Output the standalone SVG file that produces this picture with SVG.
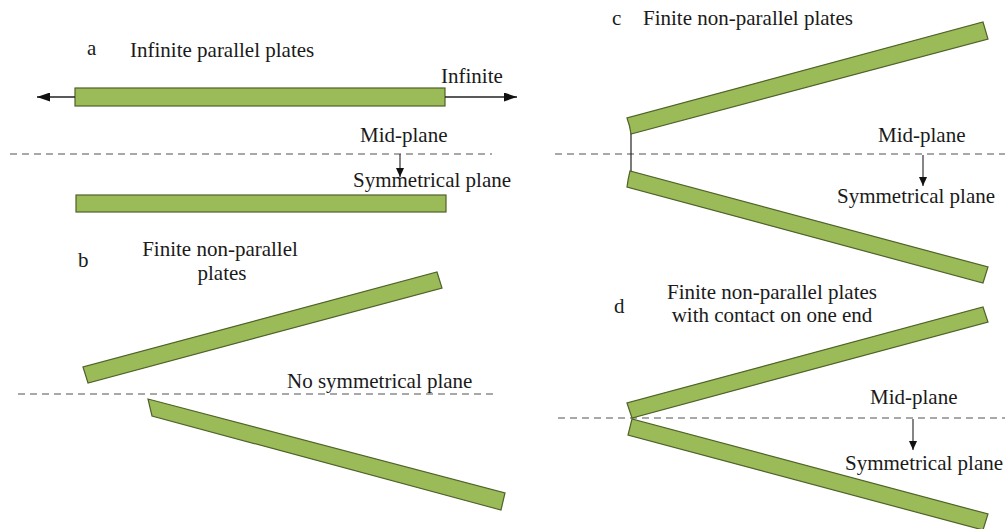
<svg xmlns="http://www.w3.org/2000/svg" width="1005" height="529" viewBox="0 0 1005 529">
<defs>
<style>
.t{font-family:"Liberation Serif","Times New Roman",serif;font-size:21px;fill:#1a1a1a}
.plate{fill:#9bbb59;stroke:#4f6228;stroke-width:1.2}
.dash{stroke:#8c8c8c;stroke-width:1.6;stroke-dasharray:7 5;fill:none}
.arr{stroke:#222;stroke-width:1.4;fill:none}
.sarr{stroke:#222;stroke-width:1.1;fill:none}
</style>
<marker id="big" markerUnits="userSpaceOnUse" markerWidth="14" markerHeight="9" refX="13" refY="4.5" orient="auto">
<path d="M0,0 L13,4.5 L0,9 z" fill="#111"/>
</marker>
<marker id="small" markerUnits="userSpaceOnUse" markerWidth="10" markerHeight="8" refX="9" refY="4" orient="auto">
<path d="M0,0 L9,4 L0,8 z" fill="#111"/>
</marker>
</defs>
<rect width="1005" height="529" fill="#fff"/>

<g id="panel-a">
<text class="t" x="87" y="55">a</text>
<text class="t" x="130" y="57">Infinite parallel plates</text>
<text class="t" x="441" y="83">Infinite</text>
<text class="t" x="360" y="142">Mid-plane</text>
<text class="t" x="353" y="187">Symmetrical plane</text>
<line class="dash" x1="10" y1="154" x2="492" y2="154"/>
<rect id="a-top-plate" class="plate" x="75" y="88" width="370" height="18"/>
<rect id="a-bottom-plate" class="plate" x="76" y="195" width="370" height="17"/>
</g>

<g id="panel-b">
<text class="t" x="78" y="267">b</text>
<text class="t" x="220" y="256" text-anchor="middle">Finite non-parallel</text>
<text class="t" x="222" y="280" text-anchor="middle">plates</text>
<text class="t" x="287" y="388">No symmetrical plane</text>
<line class="dash" x1="18" y1="394" x2="494" y2="394"/>
<polygon id="b-top-plate" class="plate" points="83,367 88,383 442,288 437,272"/>
<polygon id="b-bottom-plate" class="plate" points="148,399 152,416 501,510 505,493"/>
</g>

<g id="panel-c">
<text class="t" x="612" y="25">c</text>
<text class="t" x="643" y="25">Finite non-parallel plates</text>
<text class="t" x="878" y="142">Mid-plane</text>
<text class="t" x="837" y="203">Symmetrical plane</text>
<line class="dash" x1="555" y1="154" x2="1005" y2="154"/>
<line x1="631" y1="133" x2="631" y2="172" stroke="#222" stroke-width="1.2"/>
<path id="c-top-plate" class="plate" d="M627,118 Q630,126 631,134 L988,39 L983,22 Z"/>
<path id="c-bottom-plate" class="plate" d="M630,171 Q628,179 627,187 L983,283 L988,267 Z"/>
</g>

<g id="panel-d">
<text class="t" x="614" y="313">d</text>
<text class="t" x="772" y="299" text-anchor="middle">Finite non-parallel plates</text>
<text class="t" x="772" y="322" text-anchor="middle">with contact on one end</text>
<text class="t" x="870" y="404">Mid-plane</text>
<text class="t" x="845" y="470">Symmetrical plane</text>
<line class="dash" x1="558" y1="418" x2="1005" y2="418"/>
<polygon id="d-top-plate" class="plate" points="627,403 632,418 988,322 983,307"/>
<polygon id="d-bottom-plate" class="plate" points="632,419 628,435 983,530 988,514"/>
</g>

<g id="connectors">
<line class="arr" x1="75" y1="97" x2="37" y2="97" marker-end="url(#big)"/>
<line class="arr" x1="445" y1="97" x2="517" y2="97" marker-end="url(#big)"/>
<line class="sarr" x1="400" y1="154" x2="400" y2="177" marker-end="url(#small)"/>
<line class="sarr" x1="923" y1="155" x2="923" y2="186" marker-end="url(#small)"/>
<line class="sarr" x1="913" y1="419" x2="913" y2="450" marker-end="url(#small)"/>
</g>
</svg>
